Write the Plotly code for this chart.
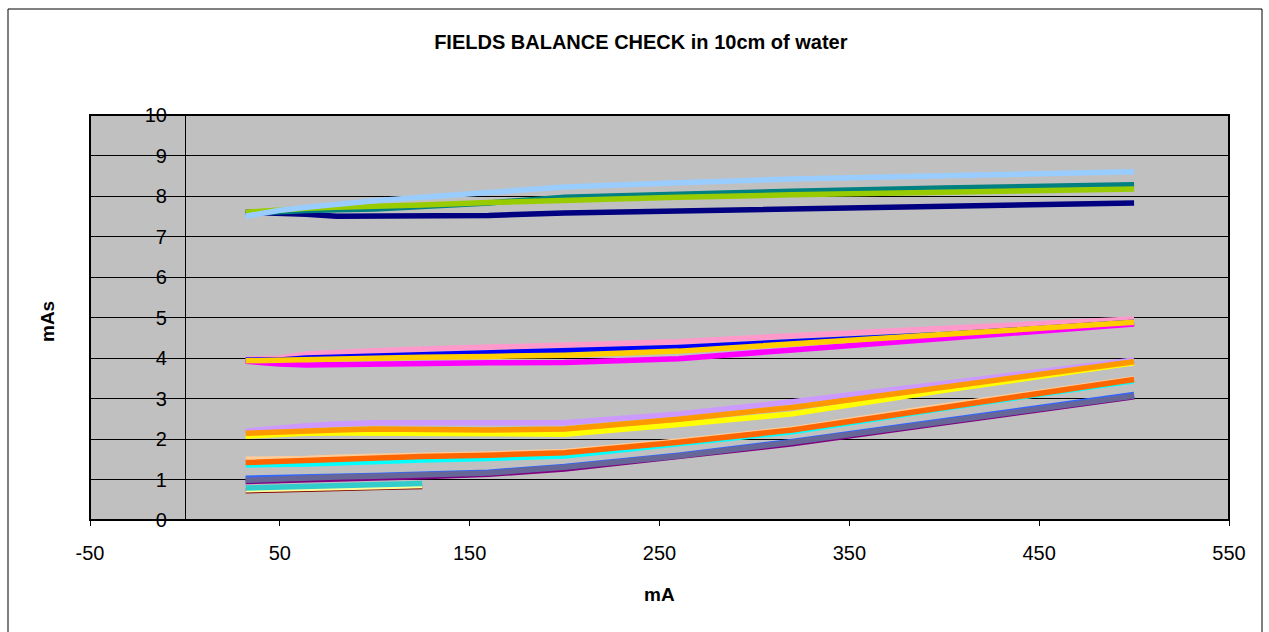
import plotly.graph_objects as go

# mA stations
mA = [32, 50, 64, 80, 100, 125, 160, 200, 260, 320, 400, 500]
mA_short = [32, 50, 64, 80, 100, 125]

# axis ticks
x_tickvals = [-50, 50, 150, 250, 350, 450, 550]
x_ticktext = ["-50", "50", "150", "250", "350", "450", "550"]

# series values (mAs)
navy      = [7.60, 7.58, 7.55, 7.50, 7.50, 7.50, 7.52, 7.58, 7.63, 7.68, 7.74, 7.83]
teal      = [7.57, 7.62, 7.64, 7.66, 7.68, 7.74, 7.83, 7.97, 8.06, 8.12, 8.20, 8.28]
lime      = [7.60, 7.66, 7.70, 7.72, 7.74, 7.78, 7.84, 7.90, 7.97, 8.03, 8.09, 8.17]
paleblue  = [7.50, 7.65, 7.72, 7.80, 7.88, 7.97, 8.10, 8.22, 8.33, 8.42, 8.50, 8.60]

rose      = [3.97, 4.00, 4.10, 4.15, 4.18, 4.22, 4.26, 4.30, 4.40, 4.55, 4.73, 4.96]
blue      = [3.95, 3.95, 4.00, 4.02, 4.05, 4.08, 4.11, 4.16, 4.26, 4.40, 4.58, 4.88]
magenta   = [3.92, 3.85, 3.83, 3.84, 3.87, 3.88, 3.88, 3.89, 3.98, 4.20, 4.47, 4.84]
gold      = [3.93, 3.95, 3.98, 3.99, 4.00, 4.02, 4.04, 4.07, 4.17, 4.34, 4.57, 4.88]

lavender  = [2.20, 2.28, 2.33, 2.37, 2.40, 2.40, 2.40, 2.40, 2.62, 2.92, 3.37, 3.95]
yellow    = [2.07, 2.12, 2.14, 2.15, 2.15, 2.13, 2.12, 2.12, 2.36, 2.62, 3.20, 3.88]
lorange   = [2.14, 2.18, 2.20, 2.22, 2.25, 2.23, 2.22, 2.25, 2.49, 2.78, 3.28, 3.91]

tan       = [1.50, 1.50, 1.52, 1.55, 1.58, 1.60, 1.63, 1.69, 1.95, 2.25, 2.82, 3.49]
cyan      = [1.36, 1.36, 1.38, 1.41, 1.45, 1.48, 1.52, 1.58, 1.88, 2.18, 2.76, 3.44]
orange    = [1.42, 1.45, 1.47, 1.50, 1.55, 1.57, 1.60, 1.66, 1.92, 2.22, 2.78, 3.47]

purple    = [0.95, 0.98, 1.00, 1.02, 1.04, 1.07, 1.13, 1.26, 1.56, 1.88, 2.40, 3.04]
lightblue = [1.03, 1.06, 1.07, 1.08, 1.10, 1.12, 1.18, 1.32, 1.60, 1.94, 2.45, 3.10]
bluegray  = [0.98, 1.02, 1.04, 1.06, 1.08, 1.10, 1.16, 1.30, 1.58, 1.92, 2.42, 3.06]

darkred   = [0.72, 0.73, 0.76, 0.78, 0.80, 0.83]
lyellow   = [0.75, 0.76, 0.79, 0.80, 0.82, 0.85]
aqua      = [0.79, 0.81, 0.83, 0.85, 0.87, 0.90]

series = [
    ("navy", mA, navy, "#000080"),
    ("teal", mA, teal, "#008080"),
    ("lime", mA, lime, "#99CC00"),
    ("paleblue", mA, paleblue, "#99CCFF"),
    ("rose", mA, rose, "#FF99CC"),
    ("blue", mA, blue, "#0000FF"),
    ("magenta", mA, magenta, "#FF00FF"),
    ("gold", mA, gold, "#FFCC00"),
    ("lavender", mA, lavender, "#CC99FF"),
    ("yellow", mA, yellow, "#FFFF00"),
    ("lorange", mA, lorange, "#FF9900"),
    ("tan", mA, tan, "#FFCC99"),
    ("cyan", mA, cyan, "#00FFFF"),
    ("orange", mA, orange, "#FF6600"),
    ("purple", mA, purple, "#800080"),
    ("lightblue", mA, lightblue, "#3366FF"),
    ("bluegray", mA, bluegray, "#666699"),
    ("darkred", mA_short, darkred, "#800000"),
    ("lyellow", mA_short, lyellow, "#FFFF99"),
    ("aqua", mA_short, aqua, "#33CCCC"),
]

fig = go.Figure()
for name, xs, ys, col in series:
    fig.add_trace(go.Scatter(x=xs, y=ys, mode="lines", name=name,
                             line=dict(color=col, width=5.5), showlegend=False))

FONT = "Liberation Sans, Arial, sans-serif"

fig.update_layout(
    width=1269, height=632,
    margin=dict(l=90, r=40, t=115, b=112),
    paper_bgcolor="white",
    plot_bgcolor="#C0C0C0",
    font=dict(family=FONT, color="black"),
    title=dict(text="<b>FIELDS BALANCE CHECK in 10cm of water</b>",
               font=dict(size=20, family=FONT, color="black"),
               x=0.505, xanchor="center", y=1 - 42 / 632, yanchor="middle",
               xref="container", yref="container"),
    xaxis=dict(range=[-50, 550], tickmode="array",
               tickvals=x_tickvals, ticktext=x_ticktext,
               ticks="outside", ticklen=5, tickcolor="black", tickwidth=1,
               showgrid=False, zeroline=False, showline=False,
               tickfont=dict(size=20, family=FONT, color="black"),
               ticklabelstandoff=10),
    yaxis=dict(range=[0, 10], dtick=1, tick0=0, tickmode="linear",
               anchor="free", position=50 / 600,
               showline=True, linecolor="black", linewidth=1,
               ticks="outside", ticklen=4, tickcolor="black",
               showgrid=True, gridcolor="black", gridwidth=1,
               zeroline=False,
               tickfont=dict(size=20, family=FONT, color="black"),
               ticklabelstandoff=10),
    shapes=[
        dict(type="rect", xref="paper", yref="paper", x0=0, x1=1, y0=0, y1=1,
             line=dict(color="black", width=2), layer="above"),
        dict(type="rect", xref="paper", yref="paper",
             x0=(8 - 90) / 1139, x1=(1262 - 90) / 1139,
             y0=(520 - 660) / 405, y1=(520 - 9) / 405,
             line=dict(color="black", width=1), layer="below"),
    ],
    annotations=[
        dict(text="<b>mA</b>", xref="paper", yref="paper", x=0.5,
             y=(520 - 594) / 405, xanchor="center", yanchor="middle",
             showarrow=False, font=dict(size=19, family=FONT, color="black")),
        dict(text="<b>mAs</b>", xref="paper", yref="paper",
             x=(47 - 90) / 1139, y=(520 - 322) / 405, textangle=-90,
             xanchor="center", yanchor="middle",
             showarrow=False, font=dict(size=19, family=FONT, color="black")),
    ],
)

fig.write_html("out.html")
